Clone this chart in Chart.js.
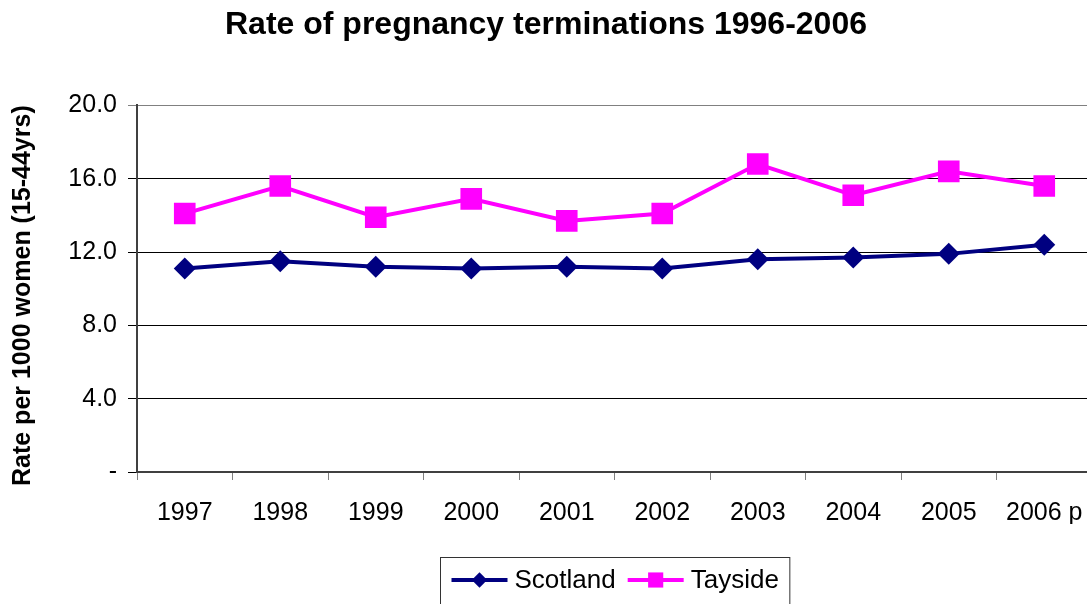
<!DOCTYPE html>
<html>
<head>
<meta charset="utf-8">
<script src="https://cdn.jsdelivr.net/npm/chart.js@4.4.0/dist/chart.umd.min.js"></script>
<style>
  html, body { margin: 0; padding: 0; background: #fff; overflow: hidden; }
  #wrap { width: 1092px; height: 604px; }
</style>
</head>
<body>
<div id="wrap"><canvas id="chart" width="1092" height="604"></canvas></div>
<script>
var years = ['1997', '1998', '1999', '2000', '2001', '2002', '2003', '2004', '2005', '2006 p'];
var scotland = [11.1, 11.5, 11.2, 11.1, 11.2, 11.1, 11.6, 11.7, 11.9, 12.4];
var tayside = [14.1, 15.6, 13.9, 14.9, 13.7, 14.1, 16.8, 15.1, 16.4, 15.6];
var yTicks = [0, 4, 8, 12, 16, 20];
var yTickLabels = ['-', '4.0', '8.0', '12.0', '16.0', '20.0'];

var FONT = "'Liberation Sans', Arial, sans-serif";

// excel style legend: line with marker, boxed, centred under the plot area
var boxedLegend = {
  id: 'boxedLegend',
  afterDraw: function(chart) {
    var ctx = chart.ctx;
    var area = chart.chartArea;
    var sets = chart.data.datasets;
    var lineLen = 56, gap = 7, between = 12, pad = 11;
    ctx.save();
    ctx.font = '26px ' + FONT;
    var total = pad * 2;
    sets.forEach(function(ds, i) {
      total += lineLen + gap + ctx.measureText(ds.label).width;
      if (i > 0) total += between;
    });
    var left = Math.round((area.left + area.right) / 2 - total / 2) + 0.5;
    var top = 557.5;
    ctx.strokeStyle = '#333';
    ctx.lineWidth = 1;
    ctx.strokeRect(left, top, total, 60);

    var x = left + pad, y = 580;
    sets.forEach(function(ds) {
      ctx.strokeStyle = ds.borderColor;
      ctx.lineWidth = ds.borderWidth;
      ctx.beginPath();
      ctx.moveTo(x, y);
      ctx.lineTo(x + lineLen, y);
      ctx.stroke();
      ctx.fillStyle = ds.backgroundColor;
      Chart.helpers.drawPoint(ctx, { pointStyle: ds.pointStyle, radius: ds.pointRadius * 0.7, borderWidth: 0, rotation: 0 }, x + lineLen / 2, y);
      ctx.fillStyle = '#000';
      ctx.textBaseline = 'middle';
      ctx.textAlign = 'left';
      ctx.fillText(ds.label, x + lineLen + gap, y + 1);
      x += lineLen + gap + ctx.measureText(ds.label).width + between;
    });
    ctx.restore();
  }
};

new Chart(document.getElementById('chart'), {
  type: 'line',
  data: {
    labels: years,
    datasets: [
      { label: 'Scotland', data: scotland, borderColor: '#000080', backgroundColor: '#000080', borderWidth: 4,
        pointStyle: 'rectRot', pointRadius: 11, pointBorderWidth: 0, tension: 0 },
      { label: 'Tayside', data: tayside, borderColor: '#FF00FF', backgroundColor: '#FF00FF', borderWidth: 4,
        pointStyle: 'rect', pointRadius: 15.3, pointBorderWidth: 0, tension: 0 }
    ]
  },
  options: {
    responsive: false,
    animation: false,
    layout: { autoPadding: false, padding: { left: 0, right: 0, top: 0, bottom: 80 } },
    plugins: {
      legend: { display: false },
      tooltip: { enabled: false },
      title: {
        display: true,
        text: 'Rate of pregnancy terminations 1996-2006',
        color: '#000',
        font: { family: FONT, size: 32, weight: 'bold' },
        padding: { top: 6, bottom: 61 }
      }
    },
    scales: {
      x: {
        offset: true,
        grid: { offset: true, drawOnChartArea: false, drawTicks: true, tickLength: 8, color: '#808080' },
        border: { color: '#404040', width: 2 },
        ticks: { color: '#000', font: { family: FONT, size: 25 }, padding: 18, maxRotation: 0, autoSkip: false },
        afterFit: function(s) { s.height = 52; s.paddingLeft = 0; s.paddingRight = 0; }
      },
      y: {
        min: 0,
        max: 20,
        ticks: {
          stepSize: 4,
          color: '#000',
          font: { family: FONT, size: 25 },
          padding: 11,
          callback: function(v) { return yTickLabels[yTicks.indexOf(v)]; }
        },
        grid: {
          color: function(c) { return c.tick && c.tick.value === 20 ? '#808080' : '#000'; },
          lineWidth: 1,
          tickLength: 9
        },
        border: { color: '#404040', width: 2 },
        title: {
          display: true,
          text: 'Rate per 1000 women (15-44yrs)  ',
          color: '#000',
          font: { family: FONT, size: 25, weight: 'bold' },
          padding: { top: 8, bottom: 0 }
        },
        afterFit: function(s) { s.width = 137; }
      }
    }
  },
  plugins: [boxedLegend]
});
</script>
</body>
</html>
